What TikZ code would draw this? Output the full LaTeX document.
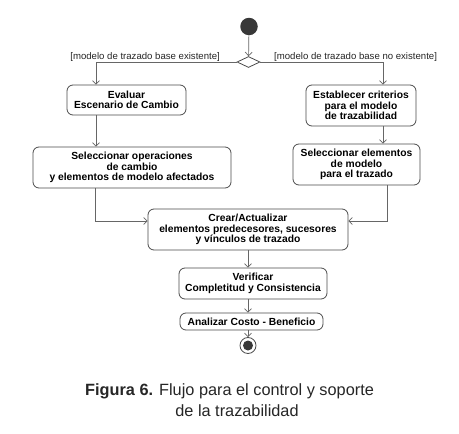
\documentclass[tikz,border=0pt]{standalone}
\usepackage{fontspec}
\setmainfont{Liberation Sans}
\usetikzlibrary{arrows.meta,shapes.geometric}
\begin{document}
\begin{tikzpicture}[x=1pt,y=-1pt,
  line/.style={draw=black!60,line width=0.7pt},
  arr/.style={line,-{Straight Barb[length=3.5pt,width=7pt]}},
  act/.style={draw=black!70,line width=0.8pt,rounded corners=6pt,fill=white,
    font=\fontsize{10.3}{10.5}\selectfont\bfseries,align=center,inner sep=0pt},
  guard/.style={font=\fontsize{9.6}{10}\selectfont,inner sep=0pt,text=black!85},
  captext/.style={font=\fontsize{16.3}{15}\selectfont,inner sep=0pt,text=black!85}]
\useasboundingbox (0,0) rectangle (459,434);
\fill[white] (0,0) rectangle (459,434);
% start
\node[circle,fill=black!78,minimum size=17.5pt,inner sep=0pt] (start) at (249,26.5) {};
\node[diamond,draw=black!70,line width=0.8pt,fill=white,minimum width=23pt,minimum height=11pt,inner sep=0pt,aspect=2] (dia) at (248.5,62) {};
% actions
\node[act,minimum width=119pt,minimum height=30pt] (eval) at (126.5,100) {Evaluar\\Escenario de Cambio};
\node[act,minimum width=110pt,minimum height=41pt] (estab) at (361,105.5) {Establecer criterios\\para el modelo\\de trazabilidad};
\node[act,minimum width=198pt,minimum height=41pt] (selops) at (132,167.5) {Seleccionar operaciones\\de cambio\hspace*{20pt}\\y elementos de modelo afectados};
\node[act,minimum width=127pt,minimum height=41pt] (selel) at (356.5,164.5) {Seleccionar elementos\\de modelo\\para el trazado};
\node[act,minimum width=200pt,minimum height=41pt] (crear) at (248,229.5) {Crear/Actualizar\\elementos predecesores, sucesores\\y v\'inculos de trazado};
\node[act,minimum width=148pt,minimum height=31pt] (verif) at (253,283.5) {Verificar\\Completitud y Consistencia};
\node[act,minimum width=143pt,minimum height=17pt] (anal) at (251.5,321.5) {Analizar Costo - Beneficio};
% end
\node[circle,draw=black!70,line width=0.8pt,fill=white,minimum size=16pt,inner sep=0pt] (end) at (248,345.5) {};
\node[circle,fill=black!78,minimum size=10pt,inner sep=0pt] (endin) at (end) {};
% guards
\node[guard,anchor=base east] (g1) at (220,59) {[modelo de trazado base existente]};
\node[guard,anchor=base west] (g2) at (274,59) {[modelo de trazado base no existente]};
% connector x-positions
\coordinate (xl) at (96,0);
\coordinate (xl2) at (95,0);
\coordinate (xr) at (383,0);
\coordinate (xr2) at (387,0);
\coordinate (xc) at (248,0);
% connectors
\draw[arr] (start) -- (dia);
\draw[arr] (dia.west) -| (xl |- eval.north);
\draw[arr] (dia.east) -| (xr |- estab.north);
\draw[arr] (xl |- eval.south) -- (xl |- selops.north);
\draw[arr] (xr |- estab.south) -- (xr |- selel.north);
\draw[arr] (xl2 |- selops.south) |- ([yshift=8.5pt]crear.west);
\draw[arr] (xr2 |- selel.south) |- ([yshift=8.5pt]crear.east);
\draw[arr] (xc |- crear.south) -- (xc |- verif.north);
\draw[arr] (xc |- verif.south) -- (xc |- anal.north);
\draw[arr] (xc |- anal.south) -- (end);
% caption
\node[captext,anchor=base west] (c1) at (85,395.5) {\textbf{Figura 6.} Flujo para el control y soporte};
\node[captext,anchor=base] (c2) at (237,416.5) {de la trazabilidad};
\end{tikzpicture}
\end{document}
